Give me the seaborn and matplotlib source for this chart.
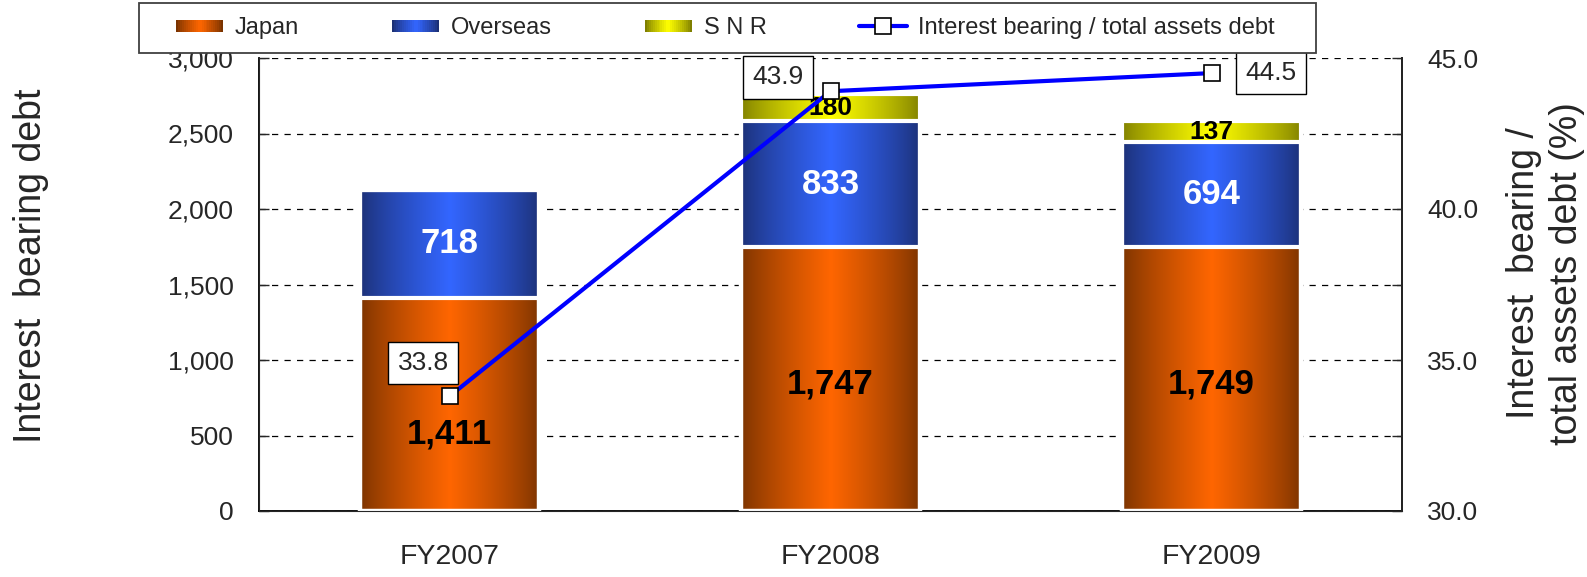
import numpy as np
import pandas as pd
import seaborn as sns
import matplotlib.pyplot as plt
from matplotlib.patches import Rectangle
from matplotlib.lines import Line2D
from matplotlib.legend_handler import HandlerBase
from matplotlib.colors import to_rgb

# data
years = ["FY2007", "FY2008", "FY2009"]
japan = [1411, 1747, 1749]
overseas = [718, 833, 694]
snr = [0, 180, 137]
ratio = [33.8, 43.9, 44.5]

sns.set_style("white")
plt.rcParams["font.family"] = ["Liberation Sans", "DejaVu Sans"]

# (edge colour, centre colour) of the horizontal gradients
JP = ("#7a3300", "#ff6600")
OV = ("#1c3075", "#3366ff")
SN = ("#7f7f00", "#ffff00")


def ramp(edge, mid, n=200):
    u = np.linspace(0, 1, n)
    t = (1 - np.abs(2 * u - 1)) ** 0.8
    e = np.array(to_rgb(edge))
    m = np.array(to_rgb(mid))
    return e + (m - e) * t[:, None]


class GradHandler(HandlerBase):
    def __init__(self, edge, mid):
        super().__init__()
        self.rgb = ramp(edge, mid, 24)

    def create_artists(self, legend, orig_handle, xdescent, ydescent,
                       width, height, fontsize, trans):
        n = len(self.rgb)
        h = height * 0.75
        y0 = -ydescent + (height - h) / 2
        arts = []
        for i, c in enumerate(self.rgb):
            arts.append(Rectangle((-xdescent + width * i / n, y0), width / n * 1.08, h,
                                  facecolor=c, edgecolor="none", transform=trans))
        return arts


df = pd.DataFrame({"year": years, "japan": japan, "overseas": overseas, "snr": snr})
df["jo"] = df["japan"] + df["overseas"]
df["total"] = df["jo"] + df["snr"]
pos = np.arange(len(years))

fig = plt.figure(figsize=(15.87, 5.77), dpi=100)
ax = fig.add_axes([259 / 1587, 1 - 511 / 577, 1143 / 1587, 453 / 577])

# stacked bars drawn as cumulative layers, then filled with gradients
layers = [("japan", JP), ("jo", OV), ("total", SN)]
prev_tops = [0.0] * len(years)
for col, cc in layers:
    n0 = len(ax.patches)
    sns.barplot(data=df, x="year", y=col, color=cc[1], width=0.47,
                errorbar=None, ax=ax, zorder=3)
    new = ax.patches[n0:]
    tops = []
    for i, p in enumerate(new):
        x0, w, top = p.get_x(), p.get_width(), p.get_height()
        if top - prev_tops[i] > 1:
            ax.imshow(ramp(*cc)[None, :, :], extent=(x0, x0 + w, prev_tops[i], top),
                      aspect="auto", interpolation="bilinear", zorder=2)
        p.set_facecolor("none")
        p.set_edgecolor("white")
        p.set_linewidth(3)
        tops.append(top)
    prev_tops = tops

ax.set_xlim(-0.5, 2.5)
ax.set_ylim(0, 3000)
ax.set_yticks(np.arange(0, 3001, 500))
ax.set_yticklabels([f"{v:,}" for v in range(0, 3001, 500)])
ax.yaxis.grid(True, ls=(0, (5, 5)), color="black", lw=0.9)
ax.set_axisbelow(True)
ax.set_xlabel("")
ax.set_ylabel("Interest  bearing debt", fontsize=27)
ax.yaxis.set_label_coords(-0.184, 0.541)
ax.set_xticks([-0.5, 0.5, 1.5, 2.5], minor=True)
ax.tick_params(axis="x", which="major", length=0, pad=24, labelsize=20.5)
ax.tick_params(axis="x", which="minor", direction="in", length=8, width=1, color="#555555")
ax.tick_params(axis="y", direction="in", length=7, width=1, labelsize=19, pad=18)
ax.spines["top"].set_visible(False)
for s in ["left", "bottom", "right"]:
    ax.spines[s].set_color("black")
    ax.spines[s].set_linewidth(1.3)

# value labels inside the segments
japan_frac = [0.36, 0.48, 0.48]
for i in range(len(years)):
    ax.text(pos[i], japan[i] * japan_frac[i], f"{japan[i]:,}", ha="center", va="center",
            fontsize=25, fontweight="bold", color="black", zorder=6)
    ax.text(pos[i], japan[i] + overseas[i] / 2, f"{overseas[i]:,}", ha="center", va="center",
            fontsize=25, fontweight="bold", color="white", zorder=6)
    if snr[i] > 0:
        ax.text(pos[i], japan[i] + overseas[i] + snr[i] / 2, f"{snr[i]:,}", ha="center",
                va="center", fontsize=19, fontweight="bold", color="black", zorder=6)

# ratio line on the right axis
ax2 = ax.twinx()
sns.lineplot(x=pos, y=ratio, ax=ax2, color="#0000ff", lw=3, marker="s", markersize=11,
             markerfacecolor="white", markeredgecolor="black", markeredgewidth=1.2, zorder=5)
ax2.set_xlim(-0.5, 2.5)
ax2.set_ylim(30, 45)
ax2.set_yticks([30, 35, 40, 45])
ax2.set_yticklabels([f"{v:.1f}" for v in [30, 35, 40, 45]])
ax2.set_yticks([32.5, 37.5, 42.5], minor=True)
ax2.tick_params(axis="y", which="both", direction="in", length=7, width=1, labelsize=19, pad=18)
ax2.set_ylabel("Interest  bearing /\ntotal assets debt (%)", fontsize=27,
               multialignment="center", linespacing=1.25)
ax2.yaxis.set_label_coords(1.091, 0.525)
ax2.spines["top"].set_visible(False)
ax2.spines["right"].set_linewidth(1.3)

offsets = [(-19, 24), (-38, 10), (43, 0)]
for i in range(len(years)):
    ax2.annotate(f"{ratio[i]:.1f}", (pos[i], ratio[i]), xytext=offsets[i],
                 textcoords="offset points", ha="center", va="center", fontsize=19,
                 bbox=dict(boxstyle="square,pad=0.35", fc="white", ec="black", lw=1),
                 zorder=7)

# legend with its own frame
fig.add_artist(Rectangle((139 / 1587, 1 - 53 / 577), 1177 / 1587, 50 / 577,
                         transform=fig.transFigure, facecolor="white",
                         edgecolor="#404040", lw=1.3, zorder=3))
h_jp = Rectangle((0, 0), 1, 1)
h_ov = Rectangle((0, 0), 1, 1)
h_sn = Rectangle((0, 0), 1, 1)
h_ln = Line2D([], [], color="#0000ff", lw=3, marker="s", markersize=11,
              markerfacecolor="white", markeredgecolor="black", markeredgewidth=1.2)
fig.legend([h_jp, h_ov, h_sn, h_ln], ["Japan", "Overseas", "S N R",
                                       "Interest bearing / total assets debt"],
           loc="center", bbox_to_anchor=(176 / 1587, 1 - 53 / 577, 1099 / 1587, 50 / 577),
           mode="expand", ncol=4, frameon=False, fontsize=17, handlelength=2.0,
           handletextpad=0.5, borderpad=0, borderaxespad=0,
           handler_map={h_jp: GradHandler(*JP), h_ov: GradHandler(*OV),
                        h_sn: GradHandler(*SN)})

fig.savefig("out.png", dpi=100)
